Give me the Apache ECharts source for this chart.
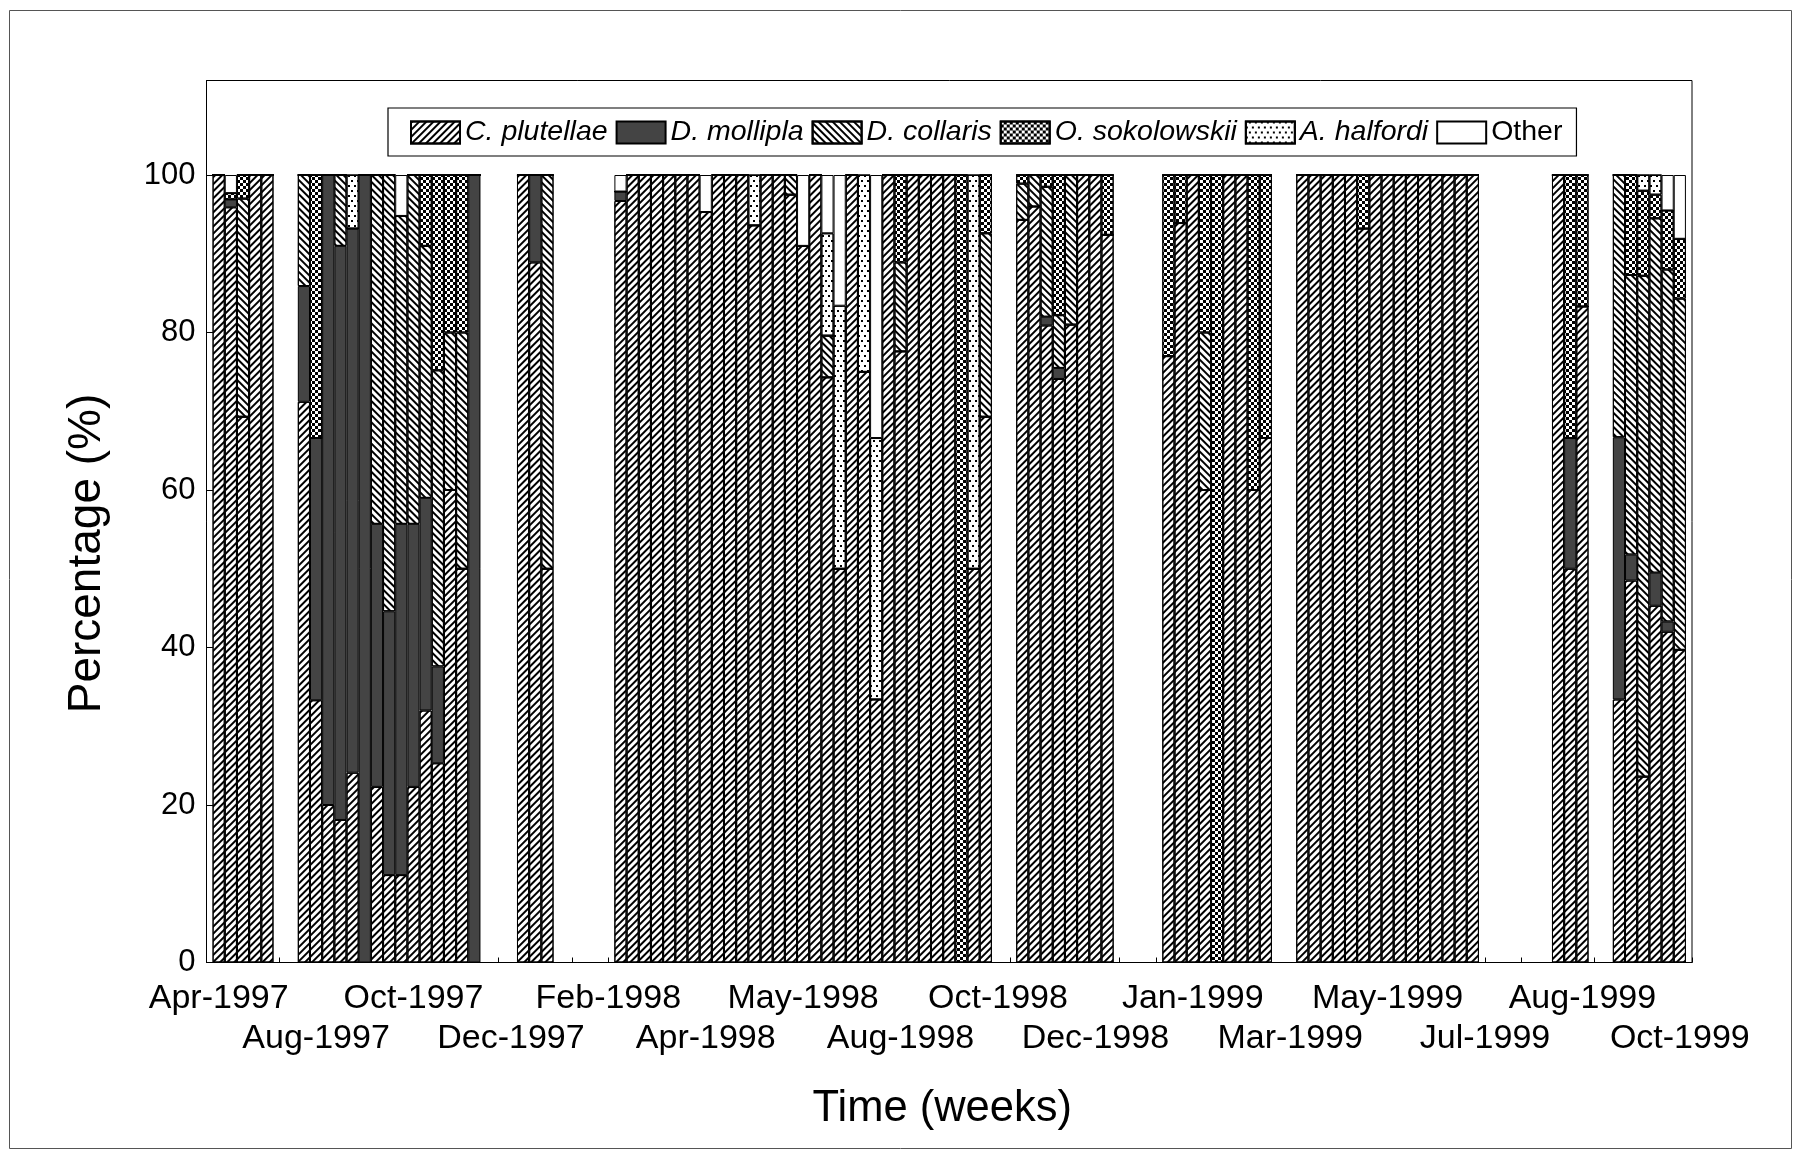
<!DOCTYPE html>
<html>
<head>
<meta charset="utf-8">
<script src="https://cdn.jsdelivr.net/npm/echarts@6/dist/echarts.min.js"></script>
<style>
  html, body { margin: 0; padding: 0; background: #ffffff; }
  #chart { width: 1801px; height: 1158px; }
</style>
</head>
<body>
<div id="chart"></div>
<script>
// Weekly samples (121 weeks); null marks weeks with no parasitoids recovered.
const weeks = Array.from({ length: 121 }, (_, i) => 'Week ' + (i + 1));

// Date labels, one every 8 weeks
const tickLabels = ['Apr-1997', 'Aug-1997', 'Oct-1997', 'Dec-1997', 'Feb-1998', 'Apr-1998',
  'May-1998', 'Aug-1998', 'Oct-1998', 'Dec-1998', 'Jan-1999', 'Mar-1999', 'May-1999',
  'Jul-1999', 'Aug-1999', 'Oct-1999'];
const labelEvery = 8;

const N = null;
// Percentage of each parasitoid species per week
const cPlutellae = [
  100, 95.9, 69.3, 100, 100, N, N,
  71.2, 33.3, 20.0, 18.1, 24.1, 0, 22.3, 11.1, 11.1, 22.3, 32.0, 25.3, 60, 50, 0,
  N, N, N,
  100, 88.9, 50,
  N, N, N, N, N,
  96.7, 100, 100, 100, 100, 100, 100, 95.3, 100, 100, 100, 93.6, 100, 100, 97.5, 91, 100,
  74.3, 50, 100, 75, 33.4, 100, 77.6, 100, 100, 100, 100, 0, 50, 69.3,
  N, N,
  94.3, 96, 80.9, 74.1, 81, 100, 100, 92.4,
  N, N, N, N,
  77, 93.9, 100, 60, 0, 100, 100, 60, 66.6,
  N, N,
  100, 100, 100, 100, 100, 93.2, 100, 100, 100, 100, 100, 100, 100, 100, 100,
  N, N, N, N, N, N,
  100, 50, 83.3,
  N, N,
  33.4, 48.5, 23.6, 45.3, 42, 39.7
];
const dMollipla = [
  0, 1.0, 0, 0, 0, N, N,
  14.7, 33.3, 80.0, 72.9, 69.1, 100, 33.4, 33.5, 44.6, 33.4, 27.0, 12.3, 0, 0, 100,
  N, N, N,
  0, 11.1, 0,
  N, N, N, N, N,
  1.2, 0, 0, 0, 0, 0, 0, 0, 0, 0, 0, 0, 0, 0, 0, 0, 0,
  0, 0, 0, 0, 0, 0, 0, 0, 0, 0, 0, 0, 0, 0,
  N, N,
  0, 0, 1.1, 1.4, 0, 0, 0, 0,
  N, N, N, N,
  0, 0, 0, 0, 0, 0, 0, 0, 0,
  N, N,
  0, 0, 0, 0, 0, 0, 0, 0, 0, 0, 0, 0, 0, 0, 0,
  N, N, N, N, N, N,
  0, 16.6, 0,
  N, N,
  33.3, 3.3, 0, 4.2, 1.3, 0
];
const dCollaris = [
  0, 0, 27.7, 0, 0, N, N,
  14.1, 0, 0, 9.0, 0, 0, 44.3, 55.4, 39.1, 44.3, 32.0, 37.6, 20, 30, 0,
  N, N, N,
  0, 0, 50,
  N, N, N, N, N,
  0, 0, 0, 0, 0, 0, 0, 0, 0, 0, 0, 0, 0, 0, 2.5, 0, 0,
  5.3, 0, 0, 0, 0, 0, 11.3, 0, 0, 0, 0, 0, 0, 23.3,
  N, N,
  4.6, 4, 16.5, 6.7, 19, 0, 0, 0,
  N, N, N, N,
  0, 0, 0, 20, 0, 0, 0, 0, 0,
  N, N,
  0, 0, 0, 0, 0, 0, 0, 0, 0, 0, 0, 0, 0, 0, 0,
  N, N, N, N, N, N,
  0, 0, 0,
  N, N,
  33.3, 35.5, 63.6, 45, 44.7, 44.6
];
const oSokolowskii = [
  0, 0.8, 3.0, 0, 0, N, N,
  0, 33.4, 0, 0, 0, 0, 0, 0, 0, 0, 9.0, 24.8, 20, 20, 0,
  N, N, N,
  0, 0, 0,
  N, N, N, N, N,
  0, 0, 0, 0, 0, 0, 0, 0, 0, 0, 0, 0, 0, 0, 0, 0, 0,
  0, 0, 0, 0, 0, 0, 11.1, 0, 0, 0, 0, 100, 0, 7.4,
  N, N,
  1.1, 0, 1.5, 17.8, 0, 0, 0, 7.6,
  N, N, N, N,
  23, 6.1, 0, 20, 100, 0, 0, 40, 33.4,
  N, N,
  0, 0, 0, 0, 0, 6.8, 0, 0, 0, 0, 0, 0, 0, 0, 0,
  N, N, N, N, N, N,
  0, 33.4, 16.7,
  N, N,
  0, 12.7, 10.8, 3, 7.5, 7.6
];
const aHalfordi = [
  0, 0, 0, 0, 0, N, N,
  0, 0, 0, 0, 6.8, 0, 0, 0, 0, 0, 0, 0, 0, 0, 0,
  N, N, N,
  0, 0, 0,
  N, N, N, N, N,
  0, 0, 0, 0, 0, 0, 0, 0, 0, 0, 0, 6.4, 0, 0, 0, 0, 0,
  13, 33.4, 0, 25, 33.2, 0, 0, 0, 0, 0, 0, 0, 50, 0,
  N, N,
  0, 0, 0, 0, 0, 0, 0, 0,
  N, N, N, N,
  0, 0, 0, 0, 0, 0, 0, 0, 0,
  N, N,
  0, 0, 0, 0, 0, 0, 0, 0, 0, 0, 0, 0, 0, 0, 0,
  N, N, N, N, N, N,
  0, 0, 0,
  N, N,
  0, 0, 2, 2.5, 0, 0
];
const other = [
  0, 2.3, 0, 0, 0, N, N,
  0, 0, 0, 0, 0, 0, 0, 0, 5.2, 0, 0, 0, 0, 0, 0,
  N, N, N,
  0, 0, 0,
  N, N, N, N, N,
  2.1, 0, 0, 0, 0, 0, 0, 4.7, 0, 0, 0, 0, 0, 0, 0, 9, 0,
  7.4, 16.6, 0, 0, 33.4, 0, 0, 0, 0, 0, 0, 0, 0, 0,
  N, N,
  0, 0, 0, 0, 0, 0, 0, 0,
  N, N, N, N,
  0, 0, 0, 0, 0, 0, 0, 0, 0,
  N, N,
  0, 0, 0, 0, 0, 0, 0, 0, 0, 0, 0, 0, 0, 0, 0,
  N, N, N, N, N, N,
  0, 0, 0,
  N, N,
  0, 0, 0, 0, 4.5, 8.1
];

const speciesNames = ['C. plutellae', 'D. mollipla', 'D. collaris', 'O. sokolowskii', 'A. halfordi', 'Other'];
const speciesValues = [cPlutellae, dMollipla, dCollaris, oSokolowskii, aHalfordi, other];

// Fill patterns
const hatchForward = { symbol: 'rect', symbolSize: 1, dashArrayX: [1, 0], dashArrayY: [1.6, 2.6], rotation: -Math.PI / 4, color: '#000000' };
const hatchBack = { symbol: 'rect', symbolSize: 1, dashArrayX: [1, 0], dashArrayY: [1.6, 2.6], rotation: Math.PI / 4, color: '#000000' };
const checker = { symbol: 'rect', symbolSize: 1, dashArrayX: [[3, 3], [0, 3, 3, 0]], dashArrayY: [3, 0], color: '#000000' };
const dots = { symbol: 'rect', symbolSize: 1, dashArrayX: [[2, 4], [0, 3, 2, 1]], dashArrayY: [2, 3], color: '#000000' };

const speciesStyles = [
  { color: '#ffffff', decal: hatchForward },
  { color: '#444444' },
  { color: '#ffffff', decal: hatchBack },
  { color: '#ffffff', decal: checker },
  { color: '#ffffff', decal: dots },
  { color: '#ffffff' }
];

// Category axis runs one blank slot past each end so the bars sit half a week in from the frame
const axisCategories = [''].concat(weeks, ['']);
const pad = arr => [null].concat(arr.map(v => (v === null ? '-' : v)), [null]);

const FONT = "'Liberation Sans', Arial, Helvetica, sans-serif";

// Date labels are split over two rows: even entries on the first, odd entries on the second
const dateLabel = (idx, row) => {
  const k = idx - 1;
  if (k < 0 || k % labelEvery !== 0) return false;
  return (k / labelEvery) % 2 === row;
};
const labelStyle = { fontFamily: FONT, fontSize: 34, color: '#000000' };

const series = speciesNames.map((name, k) => ({
  name: name,
  type: 'bar',
  stack: 'total',
  barCategoryGap: '0%',
  xAxisIndex: 0,
  data: pad(speciesValues[k]),
  itemStyle: Object.assign({ borderColor: '#000000', borderWidth: 1 }, speciesStyles[k]),
  emphasis: { disabled: true },
  animation: false
}));

const chart = echarts.init(document.getElementById('chart'), null, { renderer: 'canvas' });
chart.setOption({
  backgroundColor: '#ffffff',
  animation: false,
  graphic: [{
    type: 'rect',
    shape: { x: 9.5, y: 10.5, width: 1782, height: 1138 },
    style: { fill: 'none', stroke: '#555555', lineWidth: 1 },
    silent: true,
    z: -10
  }],
  grid: {
    left: 206.5, top: 80.5, right: 109, bottom: 195.5,
    show: true, borderColor: '#000000', borderWidth: 1, backgroundColor: 'transparent',
    outerBoundsMode: 'none'
  },
  legend: {
    left: 388, top: 108,
    padding: [10, 14, 9, 22],
    itemWidth: 49, itemHeight: 22, itemGap: 8,
    icon: 'rect',
    backgroundColor: '#ffffff',
    borderColor: '#000000', borderWidth: 1.2,
    selectedMode: false,
    data: speciesNames,
    formatter: name => name === 'Other' ? '{n|' + name + '}' : '{i|' + name + '}',
    textStyle: {
      color: '#000000', fontFamily: FONT, fontSize: 28.5,
      rich: {
        i: { fontStyle: 'italic', fontFamily: FONT, fontSize: 28.5, color: '#000000' },
        n: { fontFamily: FONT, fontSize: 28.5, color: '#000000' }
      }
    }
  },
  xAxis: [{
    type: 'category',
    data: axisCategories,
    boundaryGap: false,
    name: 'Time (weeks)',
    nameLocation: 'middle',
    nameGap: 124,
    nameTextStyle: { fontFamily: FONT, fontSize: 43.5, color: '#000000', padding: [0, 14, 0, 0] },
    axisLine: { lineStyle: { color: '#000000', width: 1 } },
    axisTick: { show: true, inside: true, length: 5, interval: 2, lineStyle: { color: '#000000' } },
    axisLabel: Object.assign({
      interval: idx => dateLabel(idx, 0),
      formatter: (val, idx) => tickLabels[(idx - 1) / labelEvery],
      showMinLabel: true,
      showMaxLabel: true,
      margin: 19
    }, labelStyle),
    splitLine: { show: false }
  }, {
    type: 'category',
    data: axisCategories,
    boundaryGap: false,
    position: 'bottom',
    offset: 0,
    axisLine: { show: false },
    axisTick: { show: false },
    axisLabel: Object.assign({
      interval: idx => dateLabel(idx, 1),
      formatter: (val, idx) => tickLabels[(idx - 1) / labelEvery],
      showMinLabel: true,
      showMaxLabel: true,
      margin: 59
    }, labelStyle),
    splitLine: { show: false }
  }],
  yAxis: {
    type: 'value',
    min: 0, max: 112, interval: 20,
    name: 'Percentage (%)',
    nameLocation: 'middle',
    nameGap: 96,
    nameRotate: 90,
    nameTextStyle: { fontFamily: FONT, fontSize: 46, color: '#000000', padding: [0, 64, 0, 0] },
    axisLine: { show: true, lineStyle: { color: '#000000', width: 1 } },
    axisTick: { show: true, inside: true, length: 8, lineStyle: { color: '#000000' } },
    axisLabel: {
      showMaxLabel: false,
      formatter: v => (v > 100 ? '' : String(v)),
      margin: 11,
      fontFamily: FONT, fontSize: 31, color: '#000000'
    },
    splitLine: { show: false }
  },
  series: series
});
</script>
</body>
</html>
